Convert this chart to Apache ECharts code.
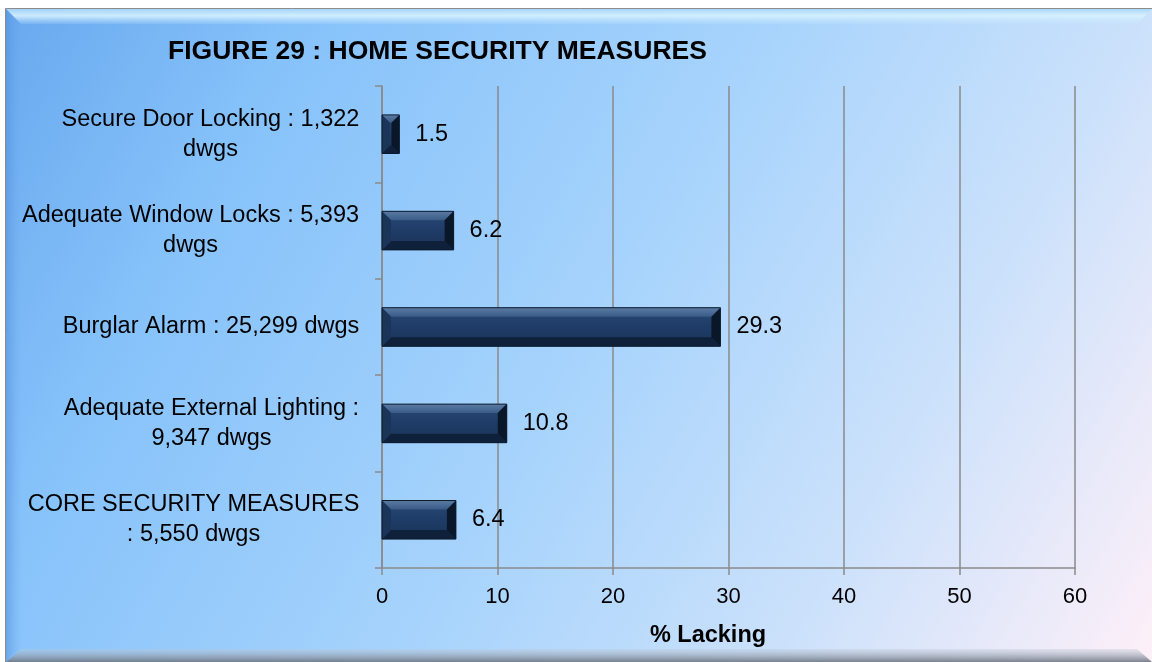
<!DOCTYPE html>
<html>
<head>
<meta charset="utf-8">
<title>Home Security Measures</title>
<script src="https://cdn.jsdelivr.net/npm/echarts@6/dist/echarts.min.js"></script>
<style>
  html, body { margin: 0; padding: 0; background: #ffffff; }
  #chart { width: 1152px; height: 662px; }
</style>
</head>
<body>
<div id="chart"></div>
<script>
// Categories listed bottom-to-top (first entry sits next to the x axis)
const categories = [
  'CORE SECURITY MEASURES\n: 5,550 dwgs',
  'Adequate External Lighting :\n9,347 dwgs',
  'Burglar Alarm : 25,299 dwgs',
  'Adequate Window Locks : 5,393\ndwgs',
  'Secure Door Locking : 1,322\ndwgs'
];
// Percentage of dwellings lacking each measure
const pctLacking = [6.4, 10.8, 29.3, 6.2, 1.5];

const xMin = 0;
const xMax = 60;
const xStep = 10;

const titleText = 'FIGURE 29 : HOME SECURITY MEASURES';
const xAxisTitle = '% Lacking';

const FONT = '"Liberation Sans", Arial, Helvetica, sans-serif';
const LABEL_SIZE = 23.5;
const GRID_GREY = '#8a8a8a';

// Multi-line category labels: the block is right-aligned against the axis,
// each line centred inside the block (one rich style per label width).
const measureCtx = document.createElement('canvas').getContext('2d');
measureCtx.font = LABEL_SIZE + 'px ' + FONT;
const labelRich = {};
categories.forEach((c, i) => {
  const w = Math.max(...c.split('\n').map(l => measureCtx.measureText(l).width));
  labelRich['c' + i] = {
    width: Math.ceil(w) + 1,
    align: 'center',
    fontSize: LABEL_SIZE,
    fontFamily: FONT,
    color: '#000000',
    lineHeight: 30
  };
});

// Bevelled bar, positioned through the chart's own scales
function renderBevelBar(params, api) {
  const v = api.value(0);
  const idx = api.value(1);
  const start = api.coord([0, idx]);
  const end = api.coord([v, idx]);
  const h = api.size([0, 1])[1] * 0.4;
  const x0 = start[0], x1 = end[0];
  const yc = start[1];
  const y0 = yc - h / 2, y1 = yc + h / 2;
  const w = x1 - x0;
  const b = Math.max(1, Math.min(9, w / 2.2, h / 3));
  return {
    type: 'group',
    children: [
      {
        type: 'rect',
        shape: { x: x0, y: y0, width: w, height: h },
        style: {
          fill: new echarts.graphic.LinearGradient(0, 0, 0, 1, [
            { offset: 0, color: '#2a4a76' },
            { offset: 0.45, color: '#1f3d68' },
            { offset: 1, color: '#1a345a' }
          ])
        }
      },
      {
        type: 'polygon',
        shape: { points: [[x0, y0], [x1, y0], [x1 - b, y0 + b], [x0 + b, y0 + b]] },
        style: {
          fill: new echarts.graphic.LinearGradient(0, 0, 0, 1, [
            { offset: 0, color: '#5b7ba3' },
            { offset: 1, color: '#395b86' }
          ])
        }
      },
      {
        type: 'polygon',
        shape: { points: [[x0, y1], [x1, y1], [x1 - b, y1 - b], [x0 + b, y1 - b]] },
        style: { fill: '#0f213a' }
      },
      {
        type: 'polygon',
        shape: { points: [[x0, y0], [x0 + b, y0 + b], [x0 + b, y1 - b], [x0, y1]] },
        style: { fill: '#1b3558' }
      },
      {
        type: 'polygon',
        shape: { points: [[x1, y0], [x1 - b, y0 + b], [x1 - b, y1 - b], [x1, y1]] },
        style: { fill: '#0a1729' }
      },
      {
        type: 'rect',
        shape: { x: x0, y: y0, width: w, height: h },
        style: { fill: 'none', stroke: '#0b1a2e', lineWidth: 1 }
      },
      {
        type: 'text',
        x: x1 + 16,
        y: yc,
        style: {
          text: String(v),
          fill: '#000000',
          font: LABEL_SIZE + 'px ' + FONT,
          verticalAlign: 'middle',
          align: 'left'
        }
      }
    ]
  };
}

const chart = echarts.init(document.getElementById('chart'), null, { renderer: 'canvas' });

chart.setOption({
  backgroundColor: '#ffffff',
  animation: false,
  graphic: {
    elements: [
      {
        // panel fill
        type: 'rect',
        z: -20,
        silent: true,
        shape: { x: 5.5, y: 8.5, width: 1150, height: 656 },
        style: {
          fill: new echarts.graphic.LinearGradient(0, 0, 1, 1, [
            { offset: 0, color: '#68a8ee' },
            { offset: 0.2, color: '#86c2fa' },
            { offset: 0.5, color: '#a6d3fc' },
            { offset: 0.75, color: '#cbe1fb' },
            { offset: 1, color: '#fff0f8' }
          ]),
          stroke: '#8c8c8c',
          lineWidth: 1
        }
      },
      {
        // top bevel highlight
        type: 'polygon',
        z: -19,
        silent: true,
        shape: { points: [[6, 9], [1152, 9], [1137, 24], [21, 24]] },
        style: {
          fill: new echarts.graphic.LinearGradient(0, 0, 0, 1, [
            { offset: 0, color: 'rgba(170,215,250,0.9)' },
            { offset: 0.45, color: 'rgba(215,242,255,0.9)' },
            { offset: 1, color: 'rgba(200,232,255,0.15)' }
          ])
        }
      },
      {
        // left bevel shade
        type: 'polygon',
        z: -19,
        silent: true,
        shape: { points: [[6, 9], [21, 24], [21, 648], [6, 662]] },
        style: {
          fill: new echarts.graphic.LinearGradient(0, 0, 1, 0, [
            { offset: 0, color: 'rgba(80,140,215,0.55)' },
            { offset: 1, color: 'rgba(110,170,240,0.05)' }
          ])
        }
      },
      {
        // bottom bevel shade
        type: 'polygon',
        z: -19,
        silent: true,
        shape: { points: [[6, 662], [21, 649], [1137, 649], [1152, 662]] },
        style: {
          fill: new echarts.graphic.LinearGradient(0, 0, 0, 1, [
            { offset: 0, color: 'rgba(190,200,215,0.35)' },
            { offset: 1, color: 'rgba(110,118,130,0.9)' }
          ])
        }
      }
    ]
  },
  title: {
    text: titleText,
    left: 168,
    top: 38,
    padding: 0,
    textStyle: {
      fontFamily: FONT,
      fontSize: 26.5,
      fontWeight: 'bold',
      color: '#000000'
    }
  },
  grid: {
    left: 382,
    right: 77,
    top: 86,
    bottom: 94,
    containLabel: false
  },
  xAxis: {
    type: 'value',
    min: xMin,
    max: xMax,
    interval: xStep,
    name: xAxisTitle,
    nameLocation: 'middle',
    nameGap: 56,
    nameTextStyle: {
      fontFamily: FONT,
      fontSize: 23.5,
      fontWeight: 'bold',
      color: '#000000',
      padding: [0, 41, 0, 0]
    },
    axisLine: { show: true, lineStyle: { color: GRID_GREY, width: 1.5 } },
    axisTick: { show: true, length: 7, lineStyle: { color: GRID_GREY, width: 1.5 } },
    axisLabel: {
      margin: 18,
      fontFamily: FONT,
      fontSize: 22,
      color: '#000000'
    },
    splitLine: { show: true, lineStyle: { color: GRID_GREY, width: 1.5 } }
  },
  yAxis: {
    type: 'category',
    data: categories,
    axisLine: { show: true, lineStyle: { color: GRID_GREY, width: 1.5 } },
    axisTick: { show: true, length: 7, lineStyle: { color: GRID_GREY, width: 1.5 } },
    axisLabel: {
      margin: 22,
      align: 'right',
      formatter: (val, idx) => val.split('\n').map(l => '{c' + idx + '|' + l + '}').join('\n'),
      rich: labelRich
    },
    splitLine: { show: false }
  },
  series: [
    {
      type: 'custom',
      name: xAxisTitle,
      renderItem: renderBevelBar,
      encode: { x: 0, y: 1 },
      data: pctLacking.map((v, i) => [v, i]),
      clip: false
    }
  ]
});
</script>
</body>
</html>
